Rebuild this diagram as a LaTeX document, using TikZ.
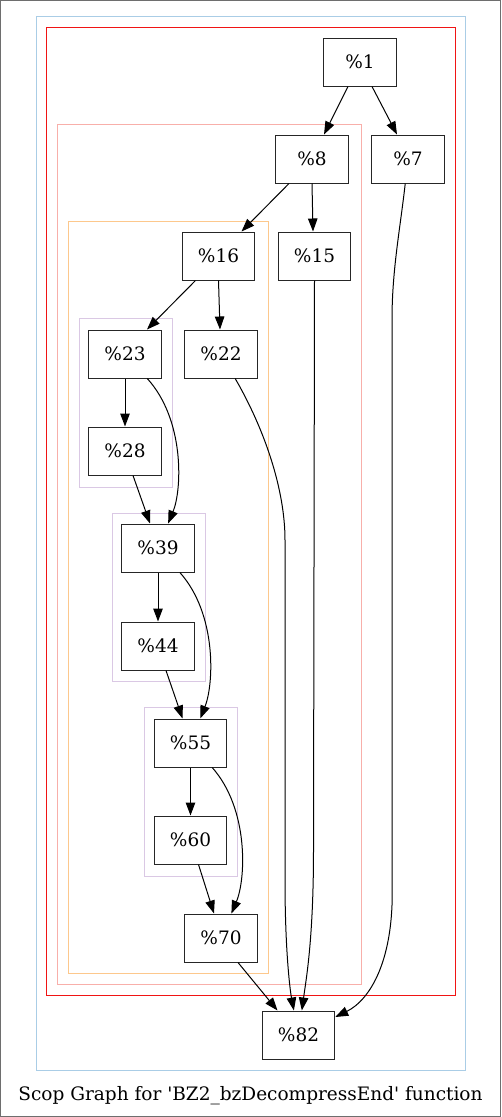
\documentclass[tikz,border=0pt]{standalone}
\usepackage{fontspec}
\setmainfont{DejaVu Serif}[Ligatures=TeXOff]
\usetikzlibrary{arrows.meta}
\definecolor{outergray}{RGB}{110,110,110}
\definecolor{cblue}{RGB}{170,205,230}
\definecolor{cred}{RGB}{240,20,20}
\definecolor{cpink}{RGB}{248,175,170}
\definecolor{corange}{RGB}{253,200,140}
\definecolor{cpurple}{RGB}{218,200,228}
\begin{document}
\begin{tikzpicture}[x=1pt,y=-1pt,
  blk/.style={draw=black!85, line width=1pt, minimum width=72.5pt, minimum height=48pt, inner sep=0pt, font=\fontsize{18.5}{20}\selectfont},
  cl/.style={line width=1pt},
  arr/.style={-{Triangle[length=13pt,width=9.5pt]}, line width=1pt}]
\useasboundingbox (0,0) rectangle (501,1117);
\draw[draw=outergray,line width=1pt] (0.5,0.5) rectangle (500.5,1116.5);
% clusters
\draw[cl,draw=cblue] (36.5,16.5) rectangle (465.5,1070.5);
\draw[cl,draw=cred] (46.5,27.5) rectangle (455.5,995.5);
\draw[cl,draw=cpink] (57.5,124.5) rectangle (361.5,984.5);
\draw[cl,draw=corange] (68.5,221.5) rectangle (268.5,973.5);
\draw[cl,draw=cpurple] (79.5,318.5) rectangle (172.5,487.5);
\draw[cl,draw=cpurple] (112.5,513.5) rectangle (205.5,681.5);
\draw[cl,draw=cpurple] (144.5,707.5) rectangle (237.5,876.5);
% nodes
\node[blk] (n1) at (360,62) {\%1};
\node[blk] (n8) at (312,159) {\%8};
\node[blk] (n7) at (408,159) {\%7};
\node[blk] (n16) at (218.5,256) {\%16};
\node[blk] (n15) at (314.5,256) {\%15};
\node[blk] (n23) at (125,354) {\%23};
\node[blk] (n22) at (221,354) {\%22};
\node[blk] (n28) at (125,451) {\%28};
\node[blk] (n39) at (158,548) {\%39};
\node[blk] (n44) at (158,646) {\%44};
\node[blk] (n55) at (190.5,743) {\%55};
\node[blk] (n60) at (190.5,840) {\%60};
\node[blk] (n70) at (221,938) {\%70};
\node[blk] (n82) at (298.5,1035) {\%82};
\node[font=\fontsize{18.5}{20}\selectfont] (title) at (250.5,1096) {Scop Graph for 'BZ2\_bzDecompressEnd' function};
% edges
\draw[arr] ([xshift=-12pt]n1.south) -- ([xshift=12pt]n8.north);
\draw[arr] ([xshift=12pt]n1.south) -- ([xshift=-11pt]n7.north);
\draw[arr] ([xshift=-23pt]n8.south) -- ([xshift=23pt]n16.north);
\draw[arr] (n8.south) -- ([xshift=-1.5pt]n15.north);
\draw[arr] ([xshift=-23pt]n16.south) -- ([xshift=22pt]n23.north);
\draw[arr] (n16.south) -- ([xshift=-1pt]n22.north);
\draw[arr] (n23) -- (n28);
\draw[arr] (n23) .. controls (185,420) and (182,490) .. (n39);
\draw[arr] ([xshift=8pt]n28.south) -- ([xshift=-8pt]n39.north);
\draw[arr] (n39) -- (n44);
\draw[arr] (n39) .. controls (217,614) and (214,684) .. (n55);
\draw[arr] ([xshift=8pt]n44.south) -- ([xshift=-8pt]n55.north);
\draw[arr] (n55) -- (n60);
\draw[arr] (n55) .. controls (249,809) and (246,879) .. (n70);
\draw[arr] ([xshift=8pt]n60.south) -- ([xshift=-7pt]n70.north);
\draw[arr] ([xshift=17pt]n70.south) -- ([xshift=-21pt]n82.north);
\draw[arr] (n22) .. controls (265,430) and (285,490) .. (285,540) -- (285,880) .. controls (285,950) and (290,990) .. (n82);
\draw[arr] (n15.south) -- (313.5,850) .. controls (313.5,940) and (306,980) .. (n82);
\draw[arr] (n7) .. controls (400,230) and (392,270) .. (392,320) -- (392,880) .. controls (395,960) and (370,1000) .. (n82);
\end{tikzpicture}
\end{document}
